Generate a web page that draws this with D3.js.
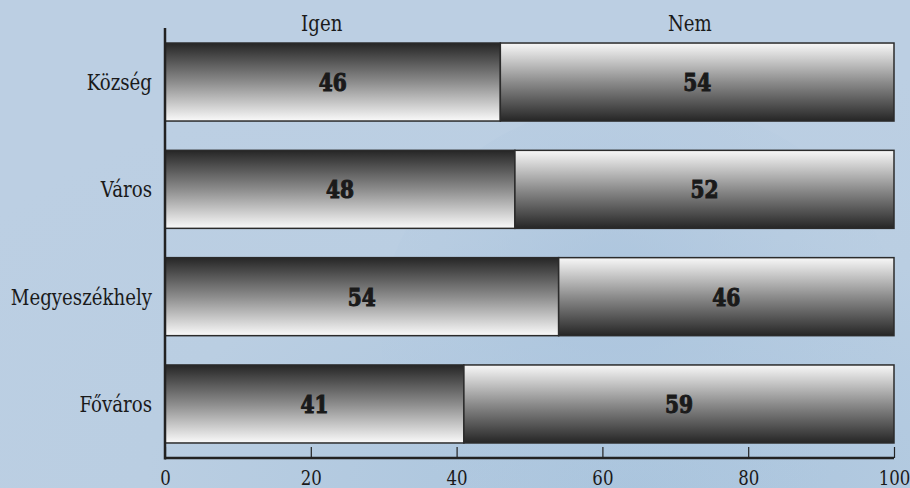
<!DOCTYPE html>
<html>
<head>
<meta charset="utf-8">
<script src="https://d3js.org/d3.v7.min.js"></script>
<style>
html,body{margin:0;padding:0;overflow:hidden;}
svg{display:block;}
text{font-family:"DejaVu Serif",serif;}
</style>
</head>
<body>
<script>
const categories = ["Község", "Város", "Megyeszékhely", "Főváros"];
const igen = [46, 48, 54, 41];
const nem = [54, 52, 46, 59];
const seriesNames = ["Igen", "Nem"];
const tickValues = [0, 20, 40, 60, 80, 100];

const W = 910, H = 488;
const svg = d3.select("body").append("svg").attr("width", W).attr("height", H);
const defs = svg.append("defs");

// background
const bg = defs.append("radialGradient").attr("id", "bg").attr("cx", "0.7").attr("cy", "1.0").attr("r", "0.9");
bg.append("stop").attr("offset", "0").attr("stop-color", "#a9c4dd");
bg.append("stop").attr("offset", "0.6").attr("stop-color", "#bacee2");
bg.append("stop").attr("offset", "1").attr("stop-color", "#bccfe3");
svg.append("rect").attr("width", W).attr("height", H).attr("fill", "url(#bg)");
const globe = defs.append("radialGradient").attr("id", "globe").attr("cx", "0.45").attr("cy", "0.4").attr("r", "0.6");
globe.append("stop").attr("offset", "0").attr("stop-color", "#a8c2dc").attr("stop-opacity", 0.7);
globe.append("stop").attr("offset", "1").attr("stop-color", "#b5cbe1").attr("stop-opacity", 0);
svg.append("ellipse").attr("cx", 640).attr("cy", 330).attr("rx", 260).attr("ry", 230).attr("fill", "url(#globe)");

const gIgen = defs.append("linearGradient").attr("id", "gIgen").attr("x1", 0).attr("y1", 0).attr("x2", 0).attr("y2", 1);
gIgen.append("stop").attr("offset", "0").attr("stop-color", "#262626");
gIgen.append("stop").attr("offset", "0.5").attr("stop-color", "#8c8c8c");
gIgen.append("stop").attr("offset", "1").attr("stop-color", "#fafafa");
const gNem = defs.append("linearGradient").attr("id", "gNem").attr("x1", 0).attr("y1", 0).attr("x2", 0).attr("y2", 1);
gNem.append("stop").attr("offset", "0").attr("stop-color", "#f8f8f8");
gNem.append("stop").attr("offset", "0.5").attr("stop-color", "#8c8c8c");
gNem.append("stop").attr("offset", "1").attr("stop-color", "#262626");

const x = d3.scaleLinear().domain([0, 100]).range([165, 894]);
const y = d3.scaleBand().domain(categories).range([28, 458]).paddingInner(0.273).paddingOuter(0.14);

const K = 0.79; // horizontal condensing of the serif face

// bars
const rows = categories.map((c, i) => ({c, igen: igen[i], nem: nem[i]}));
const g = svg.append("g");
g.selectAll(".bi").data(rows).join("rect")
  .attr("x", x(0)).attr("y", d => y(d.c))
  .attr("width", d => x(d.igen) - x(0)).attr("height", y.bandwidth())
  .attr("fill", "url(#gIgen)").attr("stroke", "#2b2b2b").attr("stroke-width", 1.5);
g.selectAll(".bn").data(rows).join("rect")
  .attr("x", d => x(d.igen)).attr("y", d => y(d.c))
  .attr("width", d => x(d.igen + d.nem) - x(d.igen)).attr("height", y.bandwidth())
  .attr("fill", "url(#gNem)").attr("stroke", "#2b2b2b").attr("stroke-width", 1.5);

// value labels
const valStyle = s => s.attr("font-weight", "bold")
  .attr("font-size", 24).attr("fill", "#1a1a1a").attr("stroke", "#1a1a1a").attr("stroke-width", 1.1)
  .attr("text-anchor", "middle");
const vy = d => y(d.c) + y.bandwidth() / 2 + 9;
g.selectAll(".vi").data(rows).join("text")
  .attr("transform", d => `translate(${x(d.igen / 2)},${vy(d)}) scale(0.84,1)`)
  .text(d => d.igen).call(valStyle);
g.selectAll(".vn").data(rows).join("text")
  .attr("transform", d => `translate(${x(d.igen + d.nem / 2)},${vy(d)}) scale(0.84,1)`)
  .text(d => d.nem).call(valStyle);

// category labels
svg.selectAll(".cat").data(categories).join("text")
  .attr("transform", d => `translate(152,${y(d) + y.bandwidth() / 2 + 8}) scale(${K},1)`)
  .attr("text-anchor", "end").attr("font-size", 23).attr("fill", "#1a1a1a")
  .text(d => d);

// series headers
const headerPos = [21.5, 72];
svg.selectAll(".hdr").data(seriesNames).join("text")
  .attr("transform", (d, i) => `translate(${x(headerPos[i])},31) scale(${K},1)`)
  .attr("text-anchor", "middle").attr("font-size", 23).attr("fill", "#1a1a1a")
  .text(d => d);

// x axis
const xAxis = d3.axisBottom(x).tickValues(tickValues).tickSize(-11).tickPadding(12).tickFormat(d3.format("d"));
const ax = svg.append("g").attr("transform", "translate(0,458)").call(xAxis);
ax.select(".domain").attr("stroke", "#222").attr("stroke-width", 2.5).attr("d", `M${x(0)},0H${x(100)}`);
ax.selectAll(".tick line").attr("stroke", "#222").attr("stroke-width", 1.2);
ax.selectAll(".tick text").attr("font-size", 21).attr("fill", "#1a1a1a")
  .attr("transform", `scale(${K},1)`);

// y axis line drawn last so it sits over the bar edges
svg.append("line")
  .attr("x1", x(0)).attr("x2", x(0)).attr("y1", 28).attr("y2", 459.5)
  .attr("stroke", "#222").attr("stroke-width", 2.5);
</script>
</body>
</html>
